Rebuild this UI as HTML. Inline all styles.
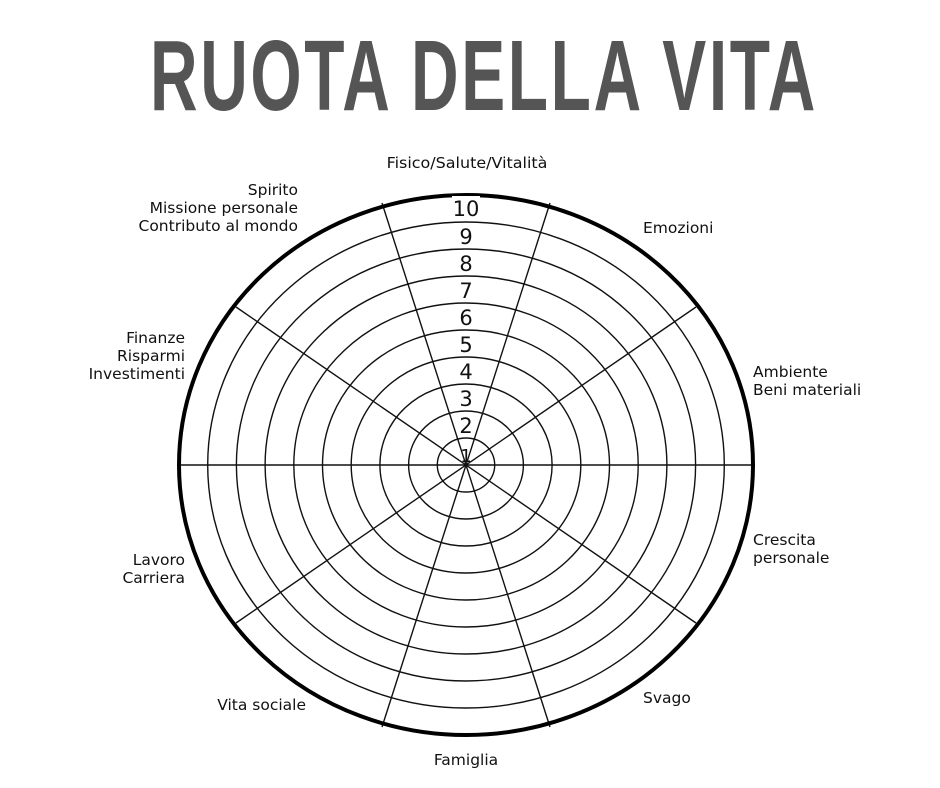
<!DOCTYPE html>
<html><head><meta charset="utf-8"><style>
html,body{margin:0;padding:0;background:#fff;width:940px;height:788px;overflow:hidden}
svg{display:block}
.l text{font-family:"DejaVu Sans",sans-serif;font-size:15.5px;fill:#111}
.n{font-family:"DejaVu Sans",sans-serif;font-size:21px;fill:#111}
</style></head><body>
<svg width="940" height="788" viewBox="0 0 940 788" xmlns="http://www.w3.org/2000/svg">
<text x="484" y="110" text-anchor="middle" font-family="Liberation Sans, sans-serif" font-weight="bold" font-size="100" fill="#555" textLength="668" lengthAdjust="spacingAndGlyphs" letter-spacing="4">RUOTA DELLA VITA</text>
<g fill="none" stroke="#111" stroke-width="1.4">
<ellipse cx="466" cy="465" rx="28.7" ry="27"/>
<ellipse cx="466" cy="465" rx="57.4" ry="54"/>
<ellipse cx="466" cy="465" rx="86.1" ry="81"/>
<ellipse cx="466" cy="465" rx="114.8" ry="108"/>
<ellipse cx="466" cy="465" rx="143.5" ry="135"/>
<ellipse cx="466" cy="465" rx="172.2" ry="162"/>
<ellipse cx="466" cy="465" rx="200.9" ry="189"/>
<ellipse cx="466" cy="465" rx="229.6" ry="216"/>
<ellipse cx="466" cy="465" rx="258.3" ry="243"/>
<line x1="179" y1="465" x2="753" y2="465"/>
<line x1="382" y1="203" x2="550" y2="727"/>
<line x1="550" y1="203" x2="382" y2="727"/>
<line x1="236" y1="307" x2="696" y2="623"/>
<line x1="696" y1="307" x2="236" y2="623"/>
</g>
<ellipse cx="466" cy="465" rx="287" ry="270" fill="none" stroke="#000" stroke-width="4"/>
<g class="n" text-anchor="middle">
<rect x="452" y="196" width="28" height="20" fill="#fff"/>
<text x="466" y="216">10</text>
<text x="466" y="244">9</text>
<text x="466" y="271">8</text>
<text x="466" y="298">7</text>
<text x="466" y="325">6</text>
<text x="466" y="352">5</text>
<text x="466" y="379">4</text>
<text x="466" y="406">3</text>
<text x="466" y="433">2</text>
<text x="466" y="462" font-size="18">1</text>
</g>
<g class="l">
<g transform="translate(467,168) scale(1.03,1)"><text text-anchor="middle">Fisico/Salute/Vitalità</text></g>
<text x="298" y="195" text-anchor="end">Spirito</text>
<text x="298" y="213" text-anchor="end">Missione personale</text>
<text x="298" y="231" text-anchor="end">Contributo al mondo</text>
<text x="643" y="233">Emozioni</text>
<text x="185" y="343" text-anchor="end">Finanze</text>
<text x="185" y="361" text-anchor="end">Risparmi</text>
<text x="185" y="379" text-anchor="end">Investimenti</text>
<text x="753" y="377">Ambiente</text>
<text x="753" y="395">Beni materiali</text>
<text x="753" y="545">Crescita</text>
<text x="753" y="563">personale</text>
<text x="185" y="565" text-anchor="end">Lavoro</text>
<text x="185" y="583" text-anchor="end">Carriera</text>
<text x="306" y="710" text-anchor="end">Vita sociale</text>
<text x="643" y="703">Svago</text>
<text x="466" y="765" text-anchor="middle">Famiglia</text>
</g>
</svg>
</body></html>
